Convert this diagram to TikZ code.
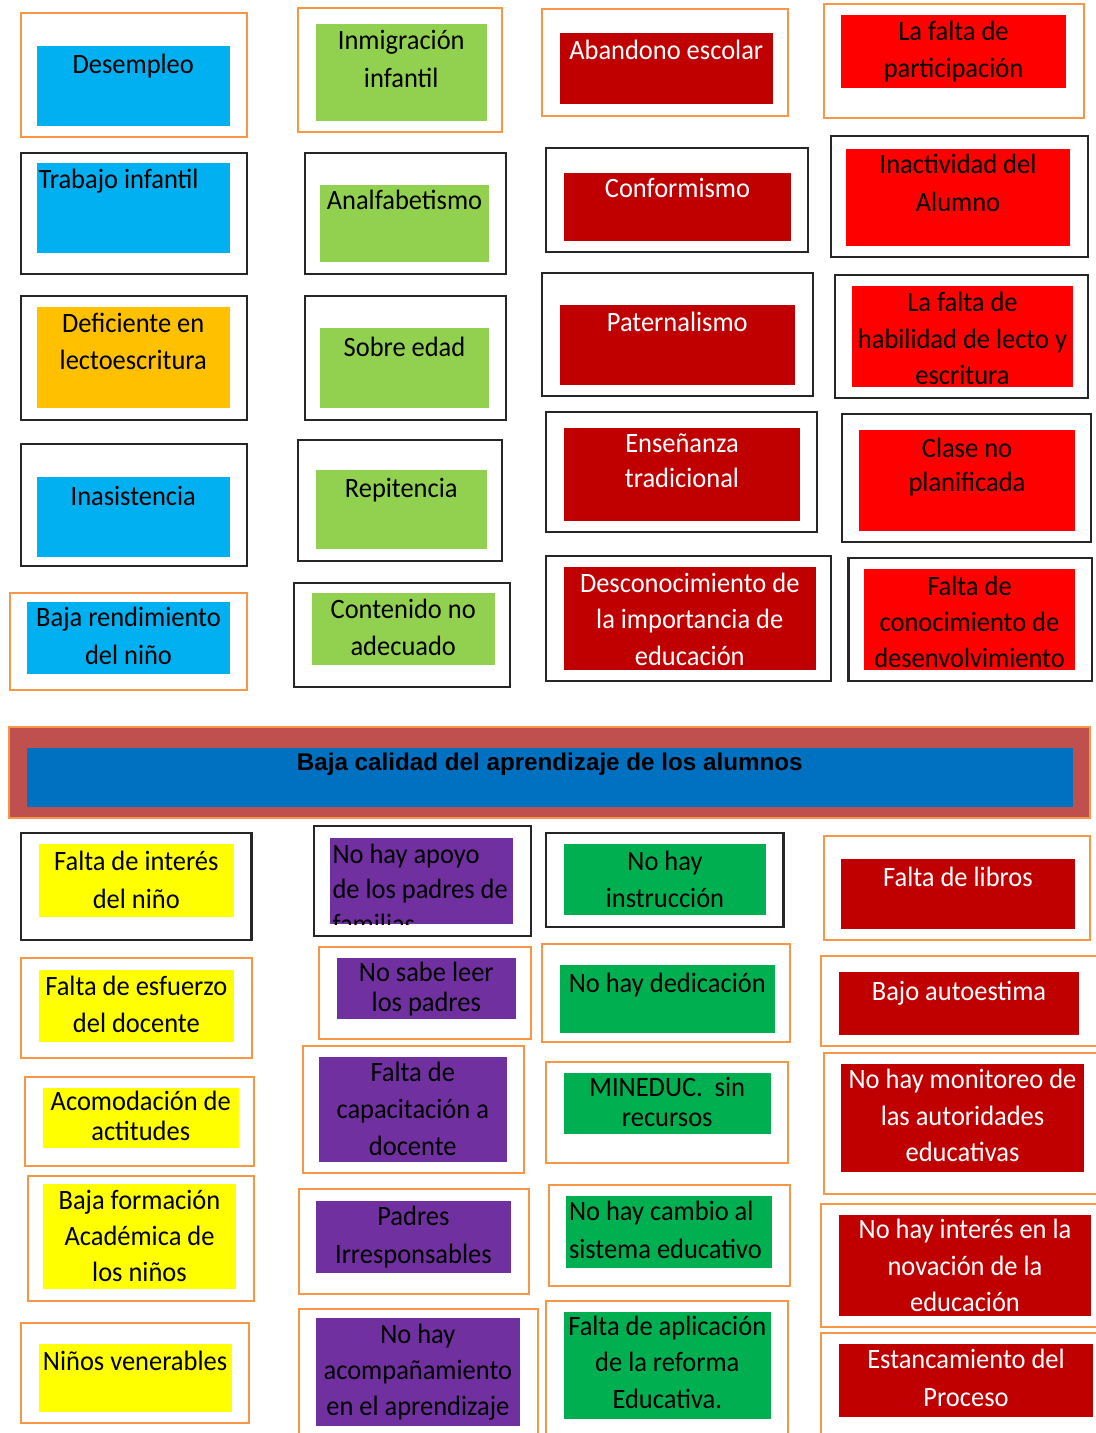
\documentclass[tikz,border=0pt]{standalone}
\usepackage{fontspec}
\newfontfamily\cardfamily{Carlito}[FakeStretch=0.945]
\newfontfamily\bannerfamily{Liberation Sans}
\newcommand\ls[1]{\cardfamily\fontsize{14}{#1}\selectfont}
\definecolor{cblue}{HTML}{00B0F0}
\definecolor{clgreen}{HTML}{92D050}
\definecolor{cgold}{HTML}{FFC000}
\definecolor{cdred}{HTML}{C00000}
\definecolor{cred}{HTML}{FF0000}
\definecolor{cyellow}{HTML}{FFFF00}
\definecolor{cpurple}{HTML}{7030A0}
\definecolor{cgreen}{HTML}{00B050}
\definecolor{cbrick}{HTML}{C0504D}
\definecolor{cbanner}{HTML}{0070C0}
\definecolor{corange}{HTML}{F79646}
\definecolor{cdark}{HTML}{262626}
% #1 name, #2 style, #3 x1, #4 y1, #5 x2, #6 y2  (pixel units, y downwards)
\newcommand\cellrect[6]{\node[#2,minimum width={(#5-#3)*0.5pt},minimum height={(#6-#4)*0.5pt}] (#1) at ({(#3+#5)/2},{(#4+#6)/2}) {};}
% #1 name, #2 options, #3 inner node, #4 first baseline, #5 text
\newcommand\celltext[5]{\node[ctext,#2] (#1) at (#3.north |- 0,{#4-25}) {\rule{0pt}{12.5pt}#5};}
% #1 name, #2 options, #3 left x, #4 first baseline, #5 text
\newcommand\cellleft[5]{\node[ctext,anchor=north west,align=left,#2] (#1) at ({#3},{#4-25}) {\rule{0pt}{12.5pt}#5};}
\begin{document}
\begin{tikzpicture}[x=0.5pt,y=-0.5pt,
  oframe/.style={draw=corange,line width=1pt,fill=white,inner sep=0pt,outer sep=0pt},
  kframe/.style={draw=cdark,line width=1.25pt,fill=white,inner sep=0pt,outer sep=0pt},
  ibox/.style={draw=none,inner sep=0pt,outer sep=0pt},
  ctext/.style={anchor=north,inner sep=0pt,outer sep=0pt,align=center,font={\ls{18.5}},text=black},
  wtext/.style={text=white}]
\useasboundingbox (0,0) rectangle (1096,1433);
\clip (0,0) rectangle (1096,1433);
\fill[white] (0,0) rectangle (1096,1433);

% ---------- top section ----------
\cellrect{c1f}{oframe}{21}{13}{247}{137}
\cellrect{c1}{ibox,fill=cblue}{36.5}{46}{230}{126}
\celltext{c1t}{}{c1}{74}{Desempleo}

\cellrect{c2f}{oframe}{298}{8}{502}{132}
\cellrect{c2}{ibox,fill=clgreen}{316}{24}{486.5}{121}
\celltext{c2t}{font={\ls{18.65}}}{c2}{50}{Inmigración\\infantil}

\cellrect{c3f}{oframe}{542}{9}{788}{116}
\cellrect{c3}{ibox,fill=cdred}{559.5}{33}{773}{104}
\celltext{c3t}{wtext}{c3}{60}{Abandono escolar}

\cellrect{c4f}{oframe}{824}{4}{1083.6}{118}
\cellrect{c4}{ibox,fill=cred}{841}{15}{1066}{88}
\celltext{c4t}{}{c4}{41}{La falta de\\participación}

\cellrect{c5f}{kframe}{21}{153}{247}{274}
\cellrect{c5}{ibox,fill=cblue}{36.5}{163}{230}{253}
\cellleft{c5t}{}{38.6}{189}{Trabajo infantil}

\cellrect{c6f}{kframe}{305}{153}{506}{274}
\cellrect{c6}{ibox,fill=clgreen}{320}{185}{489}{262}
\celltext{c6t}{}{c6}{210}{Analfabetismo}

\cellrect{c7f}{kframe}{546}{148}{808}{252}
\cellrect{c7}{ibox,fill=cdred}{564}{173}{791}{241}
\celltext{c7t}{wtext}{c7}{198}{Conformismo}

\cellrect{c8f}{kframe}{831}{136}{1088}{257}
\cellrect{c8}{ibox,fill=cred}{846}{149}{1070}{246}
\celltext{c8t}{font={\ls{19}}}{c8}{174}{Inactividad del\\Alumno}

\cellrect{c9f}{kframe}{21}{296}{247}{420}
\cellrect{c9}{ibox,fill=cgold}{36.5}{307}{230}{408}
\celltext{c9t}{}{c9}{333}{Deficiente en\\lectoescritura}

\cellrect{c10f}{kframe}{305}{296}{506}{420}
\cellrect{c10}{ibox,fill=clgreen}{320}{328}{489}{408}
\celltext{c10t}{}{c10}{357}{Sobre edad}

\cellrect{c11f}{kframe}{542}{273}{813}{396}
\cellrect{c11}{ibox,fill=cdred}{559.5}{305}{795}{385}
\celltext{c11t}{wtext}{c11}{332}{Paternalismo}

\cellrect{c12f}{kframe}{835}{275}{1088}{398}
\cellrect{c12}{ibox,fill=cred}{852}{286}{1073}{387}
\celltext{c12t}{font={\ls{18.2}}}{c12}{311.7}{La falta de\\habilidad de lecto y\\escritura}

\cellrect{c13f}{kframe}{21}{444}{247}{566}
\cellrect{c13}{ibox,fill=cblue}{36.5}{477}{230}{557}
\celltext{c13t}{}{c13}{505.7}{Inasistencia}

\cellrect{c14f}{kframe}{298}{440}{502}{561}
\cellrect{c14}{ibox,fill=clgreen}{316}{470}{486.5}{549}
\celltext{c14t}{}{c14}{497.3}{Repitencia}

\cellrect{c15f}{kframe}{546}{412}{817}{532}
\cellrect{c15}{ibox,fill=cdred}{564}{428}{800}{521}
\celltext{c15t}{wtext,font={\ls{17.5}}}{c15}{452.7}{Enseñanza\\tradicional}

\cellrect{c16f}{kframe}{842}{414}{1091}{542}
\cellrect{c16}{ibox,fill=cred}{859}{430}{1075}{531}
\celltext{c16t}{font={\ls{17}}}{c16}{457.7}{Clase no\\planificada}

\cellrect{c17f}{oframe}{10}{593}{247}{690}
\cellrect{c17}{ibox,fill=cblue}{27}{602}{230}{674}
\celltext{c17t}{font={\ls{18.8}}}{c17}{626.7}{Baja rendimiento\\del niño}

\cellrect{c18f}{kframe}{294}{583}{510}{687}
\cellrect{c18}{ibox,fill=clgreen}{311.5}{593}{495}{665}
\celltext{c18t}{font={\ls{18.7}}}{c18}{618.3}{Contenido no\\adecuado}

\cellrect{c19f}{kframe}{546}{556}{831}{681}
\cellrect{c19}{ibox,fill=cdred}{564}{567}{815.5}{670}
\celltext{c19t}{wtext,font={\ls{18.2}}}{c19}{592.3}{Desconocimiento de\\la importancia de\\educación}

\cellrect{c20f}{kframe}{848.5}{558}{1092}{681}
\cellrect{c20}{ibox,fill=cred}{864}{569}{1075}{670}
\celltext{c20t}{font={\ls{18}}}{c20}{595}{Falta de\\conocimiento de\\desenvolvimiento}

% ---------- banner ----------
\cellrect{bnf}{draw=corange,line width=0.75pt,fill=cbrick,inner sep=0pt,outer sep=0pt}{9}{727}{1090}{818}
\cellrect{bn}{ibox,fill=cbanner}{26.5}{748}{1073}{807}
\node[anchor=base,inner sep=0pt,font={\bannerfamily\bfseries\fontsize{12.1}{14}\selectfont}] (bnt) at (bn.north |- 0,770) {Baja calidad del aprendizaje de los alumnos};

% ---------- bottom section ----------
\cellrect{d1f}{kframe}{21}{833}{251.5}{940}
\cellrect{d1}{ibox,fill=cyellow}{38.6}{844}{234}{917}
\celltext{d1t}{font={\ls{19}}}{d1}{870}{Falta de interés\\del niño}

\cellrect{d2f}{kframe}{314}{826}{531}{936}
\cellrect{d2}{ibox,fill=cpurple}{330}{838}{513}{924}
\begin{scope}
\clip (d2.north west) rectangle (d2.south east);
\cellleft{d2t}{font={\ls{17.5}}}{332.5}{863.3}{No hay apoyo\\de los padres de\\familias}
\end{scope}

\cellrect{d3f}{kframe}{546}{833}{783.6}{927}
\cellrect{d3}{ibox,fill=cgreen}{564}{844}{766}{915}
\celltext{d3t}{font={\ls{18.6}}}{d3}{870}{No hay\\instrucción}

\cellrect{d4f}{oframe}{824}{836}{1090}{940}
\cellrect{d4}{ibox,fill=cdred}{841}{859}{1075}{929}
\celltext{d4t}{wtext}{d4}{886.7}{Falta de libros}

\cellrect{d5f}{oframe}{21}{958}{251.5}{1058}
\cellrect{d5}{ibox,fill=cyellow}{38.6}{970}{234}{1042}
\celltext{d5t}{font={\ls{18.6}}}{d5}{995}{Falta de esfuerzo\\del docente}

\cellrect{d6f}{oframe}{319}{947}{531}{1039}
\cellrect{d6}{ibox,fill=cpurple}{337}{958}{515.6}{1019}
\celltext{d6t}{font={\ls{15}}}{d6}{981.7}{No sabe leer\\los padres}

\cellrect{d7f}{oframe}{542}{944}{790}{1042}
\cellrect{d7}{ibox,fill=cgreen}{559.5}{965}{775}{1033}
\celltext{d7t}{}{d7}{992.3}{No hay dedicación}

\cellrect{d8f}{oframe}{821}{956}{1100}{1046}
\cellrect{d8}{ibox,fill=cdred}{839}{972}{1079}{1035}
\celltext{d8t}{wtext}{d8}{1000}{Bajo autoestima}

\cellrect{d9f}{oframe}{25}{1077}{253.6}{1166}
\cellrect{d9}{ibox,fill=cyellow}{43}{1088}{238.5}{1148}
\celltext{d9t}{font={\ls{15}}}{d9}{1110}{Acomodación de\\actitudes}

\cellrect{d10f}{oframe}{303}{1046}{524}{1173}
\cellrect{d10}{ibox,fill=cpurple}{318.5}{1057}{507}{1162}
\celltext{d10t}{}{d10}{1081}{Falta de\\capacitación a\\docente}

\cellrect{d11f}{oframe}{546}{1062}{787.5}{1163}
\cellrect{d11}{ibox,fill=cgreen}{564}{1073}{770.5}{1134}
\celltext{d11t}{font={\ls{15}}}{d11}{1096.7}{MINEDUC.\ \ sin\\recursos}

\cellrect{d12f}{oframe}{824}{1053}{1100}{1194}
\cellrect{d12}{ibox,fill=cdred}{841}{1064}{1084}{1172}
\celltext{d12t}{wtext,font={\ls{18.35}}}{d12}{1088.3}{No hay monitoreo de\\las autoridades\\educativas}

\cellrect{d13f}{oframe}{28}{1176}{253.6}{1301}
\cellrect{d13}{ibox,fill=cyellow}{43}{1184}{236}{1289}
\celltext{d13t}{font={\ls{18.1}}}{d13}{1209.3}{Baja formación\\Académica de\\los niños}

\cellrect{d14f}{oframe}{299}{1189}{528.6}{1294}
\cellrect{d14}{ibox,fill=cpurple}{315.7}{1201}{511}{1273}
\celltext{d14t}{font={\ls{19.1}}}{d14}{1225}{Padres\\Irresponsables}

\cellrect{d15f}{oframe}{549}{1185}{790}{1286}
\cellrect{d15}{ibox,fill=cgreen}{566}{1196}{772}{1268}
\cellleft{d15t}{font={\ls{19.1}}}{569}{1220}{No hay cambio al\\sistema educativo}

\cellrect{d16f}{oframe}{821}{1204}{1100}{1327}
\cellrect{d16}{ibox,fill=cdred}{839}{1215}{1091}{1316}
\celltext{d16t}{wtext,font={\ls{18.35}}}{d16}{1238.3}{No hay interés en la\\novación de la\\educación}

\cellrect{d17f}{oframe}{21}{1323}{249}{1423}
\cellrect{d17}{ibox,fill=cyellow}{38.6}{1344}{231.5}{1412}
\celltext{d17t}{}{d17}{1370}{Niños venerables}

\cellrect{d18f}{oframe}{299}{1309}{537.7}{1450}
\cellrect{d18}{ibox,fill=cpurple}{315.7}{1318}{520}{1426}
\celltext{d18t}{font={\ls{18.1}}}{d18}{1343.3}{No hay\\acompañamiento\\en el aprendizaje}

\cellrect{d19f}{oframe}{546}{1301}{787.5}{1450}
\cellrect{d19}{ibox,fill=cgreen}{564}{1312}{770.5}{1419}
\celltext{d19t}{font={\ls{18.35}}}{d19}{1335}{Falta de aplicación\\de la reforma\\Educativa.}

\cellrect{d20f}{oframe}{821}{1333}{1100}{1450}
\cellrect{d20}{ibox,fill=cdred}{839}{1344}{1093}{1417}
\celltext{d20t}{wtext,font={\ls{19}}}{d20}{1368.3}{Estancamiento del\\Proceso}
\end{tikzpicture}
\end{document}
